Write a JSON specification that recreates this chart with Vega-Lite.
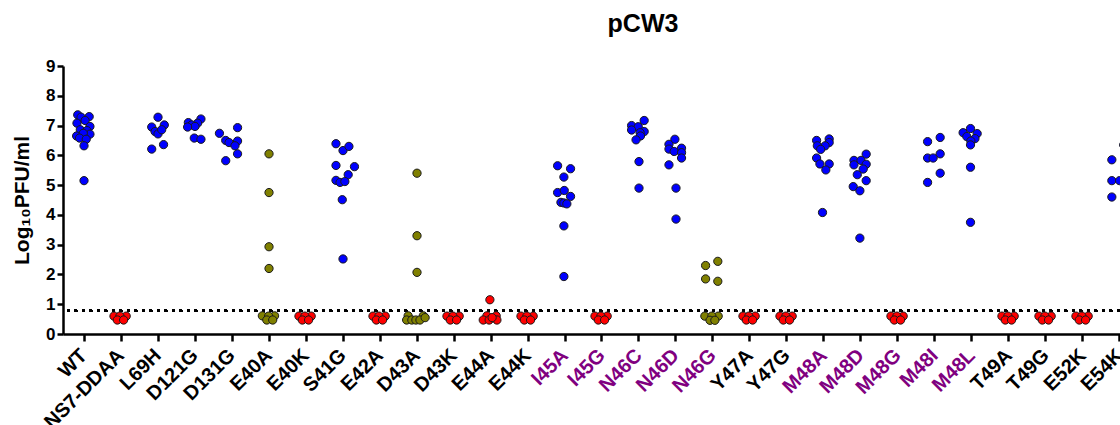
{
"$schema": "https://vega.github.io/schema/vega-lite/v6.json",
"width": 1078,
"height": 268,
"autosize": {"type": "none"},
"padding": {"left": 63, "top": 66, "right": -21, "bottom": 91},
"title": {"text": "pCW3", "fontSize": 25, "fontWeight": "bold", "font": "Liberation Sans", "color": "black", "anchor": "middle", "frame": "group", "dx": 41, "offset": 20},
"config": {"view": {"stroke": null}, "font": "Liberation Sans", "background": "white"},
"data": {"values": [
{"mutant":"WT","titer":7.36,"swarm":-0.17,"type":"high"},
{"mutant":"WT","titer":7.28,"swarm":-0.08,"type":"high"},
{"mutant":"WT","titer":7.30,"swarm":0.14,"type":"high"},
{"mutant":"WT","titer":7.08,"swarm":-0.19,"type":"high"},
{"mutant":"WT","titer":7.17,"swarm":0.03,"type":"high"},
{"mutant":"WT","titer":6.97,"swarm":0.16,"type":"high"},
{"mutant":"WT","titer":6.86,"swarm":-0.10,"type":"high"},
{"mutant":"WT","titer":6.83,"swarm":0.08,"type":"high"},
{"mutant":"WT","titer":6.71,"swarm":0.16,"type":"high"},
{"mutant":"WT","titer":6.65,"swarm":-0.20,"type":"high"},
{"mutant":"WT","titer":6.74,"swarm":-0.02,"type":"high"},
{"mutant":"WT","titer":6.58,"swarm":-0.12,"type":"high"},
{"mutant":"WT","titer":6.54,"swarm":0.06,"type":"high"},
{"mutant":"WT","titer":6.32,"swarm":0,"type":"high"},
{"mutant":"WT","titer":5.15,"swarm":0,"type":"high"},
{"mutant":"NS7-DDAA","titer":0.6,"swarm":-0.19,"type":"low"},
{"mutant":"NS7-DDAA","titer":0.6,"swarm":0.14,"type":"low"},
{"mutant":"NS7-DDAA","titer":0.6,"swarm":-0.03,"type":"low"},
{"mutant":"NS7-DDAA","titer":0.47,"swarm":-0.1,"type":"low"},
{"mutant":"NS7-DDAA","titer":0.47,"swarm":0.07,"type":"low"},
{"mutant":"L69H","titer":7.28,"swarm":0,"type":"high"},
{"mutant":"L69H","titer":6.95,"swarm":-0.17,"type":"high"},
{"mutant":"L69H","titer":7.02,"swarm":0.17,"type":"high"},
{"mutant":"L69H","titer":6.80,"swarm":-0.08,"type":"high"},
{"mutant":"L69H","titer":6.72,"swarm":0,"type":"high"},
{"mutant":"L69H","titer":6.86,"swarm":0.10,"type":"high"},
{"mutant":"L69H","titer":6.36,"swarm":0.15,"type":"high"},
{"mutant":"L69H","titer":6.21,"swarm":-0.17,"type":"high"},
{"mutant":"D121G","titer":7.22,"swarm":0.16,"type":"high"},
{"mutant":"D121G","titer":7.10,"swarm":-0.18,"type":"high"},
{"mutant":"D121G","titer":7.08,"swarm":0.07,"type":"high"},
{"mutant":"D121G","titer":7.02,"swarm":-0.09,"type":"high"},
{"mutant":"D121G","titer":6.97,"swarm":0,"type":"high"},
{"mutant":"D121G","titer":6.95,"swarm":-0.20,"type":"high"},
{"mutant":"D121G","titer":6.58,"swarm":-0.02,"type":"high"},
{"mutant":"D121G","titer":6.54,"swarm":0.16,"type":"high"},
{"mutant":"D131G","titer":6.74,"swarm":-0.34,"type":"high"},
{"mutant":"D131G","titer":6.93,"swarm":0.15,"type":"high"},
{"mutant":"D131G","titer":6.50,"swarm":-0.17,"type":"high"},
{"mutant":"D131G","titer":6.43,"swarm":-0.08,"type":"high"},
{"mutant":"D131G","titer":6.48,"swarm":0.15,"type":"high"},
{"mutant":"D131G","titer":6.32,"swarm":0.08,"type":"high"},
{"mutant":"D131G","titer":6.05,"swarm":0.15,"type":"high"},
{"mutant":"D131G","titer":5.82,"swarm":-0.17,"type":"high"},
{"mutant":"E40A","titer":6.05,"swarm":0,"type":"mixed"},
{"mutant":"E40A","titer":4.75,"swarm":0,"type":"mixed"},
{"mutant":"E40A","titer":2.93,"swarm":0,"type":"mixed"},
{"mutant":"E40A","titer":2.20,"swarm":0,"type":"mixed"},
{"mutant":"E40A","titer":0.61,"swarm":-0.18,"type":"mixed"},
{"mutant":"E40A","titer":0.61,"swarm":0.15,"type":"mixed"},
{"mutant":"E40A","titer":0.6,"swarm":-0.01,"type":"mixed"},
{"mutant":"E40A","titer":0.47,"swarm":-0.06,"type":"mixed"},
{"mutant":"E40A","titer":0.47,"swarm":0.10,"type":"mixed"},
{"mutant":"E40K","titer":0.6,"swarm":-0.19,"type":"low"},
{"mutant":"E40K","titer":0.6,"swarm":0.14,"type":"low"},
{"mutant":"E40K","titer":0.6,"swarm":-0.03,"type":"low"},
{"mutant":"E40K","titer":0.47,"swarm":-0.1,"type":"low"},
{"mutant":"E40K","titer":0.47,"swarm":0.07,"type":"low"},
{"mutant":"S41G","titer":6.39,"swarm":-0.19,"type":"high"},
{"mutant":"S41G","titer":6.16,"swarm":0,"type":"high"},
{"mutant":"S41G","titer":6.30,"swarm":0.16,"type":"high"},
{"mutant":"S41G","titer":5.66,"swarm":-0.19,"type":"high"},
{"mutant":"S41G","titer":5.62,"swarm":0.31,"type":"high"},
{"mutant":"S41G","titer":5.35,"swarm":0.14,"type":"high"},
{"mutant":"S41G","titer":5.16,"swarm":-0.19,"type":"high"},
{"mutant":"S41G","titer":5.09,"swarm":-0.08,"type":"high"},
{"mutant":"S41G","titer":5.12,"swarm":0.05,"type":"high"},
{"mutant":"S41G","titer":4.51,"swarm":-0.02,"type":"high"},
{"mutant":"S41G","titer":2.52,"swarm":0,"type":"high"},
{"mutant":"E42A","titer":0.6,"swarm":-0.19,"type":"low"},
{"mutant":"E42A","titer":0.6,"swarm":0.14,"type":"low"},
{"mutant":"E42A","titer":0.6,"swarm":-0.03,"type":"low"},
{"mutant":"E42A","titer":0.47,"swarm":-0.1,"type":"low"},
{"mutant":"E42A","titer":0.47,"swarm":0.07,"type":"low"},
{"mutant":"D43A","titer":5.40,"swarm":0,"type":"mixed"},
{"mutant":"D43A","titer":3.30,"swarm":0,"type":"mixed"},
{"mutant":"D43A","titer":2.07,"swarm":0,"type":"mixed"},
{"mutant":"D43A","titer":0.61,"swarm":-0.24,"type":"mixed"},
{"mutant":"D43A","titer":0.61,"swarm":0.17,"type":"mixed"},
{"mutant":"D43A","titer":0.47,"swarm":-0.28,"type":"mixed"},
{"mutant":"D43A","titer":0.47,"swarm":-0.14,"type":"mixed"},
{"mutant":"D43A","titer":0.47,"swarm":-0.03,"type":"mixed"},
{"mutant":"D43A","titer":0.47,"swarm":0.08,"type":"mixed"},
{"mutant":"D43A","titer":0.55,"swarm":0.22,"type":"mixed"},
{"mutant":"D43K","titer":0.6,"swarm":-0.19,"type":"low"},
{"mutant":"D43K","titer":0.6,"swarm":0.14,"type":"low"},
{"mutant":"D43K","titer":0.6,"swarm":-0.03,"type":"low"},
{"mutant":"D43K","titer":0.47,"swarm":-0.1,"type":"low"},
{"mutant":"D43K","titer":0.47,"swarm":0.07,"type":"low"},
{"mutant":"E44A","titer":1.15,"swarm":-0.03,"type":"low"},
{"mutant":"E44A","titer":0.61,"swarm":-0.11,"type":"low"},
{"mutant":"E44A","titer":0.61,"swarm":0.14,"type":"low"},
{"mutant":"E44A","titer":0.47,"swarm":-0.21,"type":"low"},
{"mutant":"E44A","titer":0.47,"swarm":-0.05,"type":"low"},
{"mutant":"E44A","titer":0.47,"swarm":0.16,"type":"low"},
{"mutant":"E44A","titer":0.55,"swarm":0.03,"type":"low"},
{"mutant":"E44K","titer":0.6,"swarm":-0.19,"type":"low"},
{"mutant":"E44K","titer":0.6,"swarm":0.14,"type":"low"},
{"mutant":"E44K","titer":0.6,"swarm":-0.03,"type":"low"},
{"mutant":"E44K","titer":0.47,"swarm":-0.1,"type":"low"},
{"mutant":"E44K","titer":0.47,"swarm":0.07,"type":"low"},
{"mutant":"I45A","titer":5.65,"swarm":-0.20,"type":"high"},
{"mutant":"I45A","titer":5.55,"swarm":0.15,"type":"high"},
{"mutant":"I45A","titer":5.27,"swarm":-0.03,"type":"high"},
{"mutant":"I45A","titer":4.75,"swarm":-0.20,"type":"high"},
{"mutant":"I45A","titer":4.82,"swarm":-0.02,"type":"high"},
{"mutant":"I45A","titer":4.62,"swarm":0.15,"type":"high"},
{"mutant":"I45A","titer":4.42,"swarm":-0.11,"type":"high"},
{"mutant":"I45A","titer":4.40,"swarm":-0.03,"type":"high"},
{"mutant":"I45A","titer":4.37,"swarm":0.05,"type":"high"},
{"mutant":"I45A","titer":3.63,"swarm":-0.03,"type":"high"},
{"mutant":"I45A","titer":1.93,"swarm":-0.03,"type":"high"},
{"mutant":"I45G","titer":0.6,"swarm":-0.19,"type":"low"},
{"mutant":"I45G","titer":0.6,"swarm":0.14,"type":"low"},
{"mutant":"I45G","titer":0.6,"swarm":-0.03,"type":"low"},
{"mutant":"I45G","titer":0.47,"swarm":-0.1,"type":"low"},
{"mutant":"I45G","titer":0.47,"swarm":0.07,"type":"low"},
{"mutant":"N46C","titer":7.17,"swarm":0.14,"type":"high"},
{"mutant":"N46C","titer":7.00,"swarm":-0.20,"type":"high"},
{"mutant":"N46C","titer":6.96,"swarm":-0.02,"type":"high"},
{"mutant":"N46C","titer":6.85,"swarm":-0.20,"type":"high"},
{"mutant":"N46C","titer":6.80,"swarm":0.14,"type":"high"},
{"mutant":"N46C","titer":6.76,"swarm":0.03,"type":"high"},
{"mutant":"N46C","titer":6.65,"swarm":0.04,"type":"high"},
{"mutant":"N46C","titer":6.52,"swarm":-0.08,"type":"high"},
{"mutant":"N46C","titer":5.79,"swarm":0,"type":"high"},
{"mutant":"N46C","titer":4.90,"swarm":0,"type":"high"},
{"mutant":"N46D","titer":6.54,"swarm":-0.03,"type":"high"},
{"mutant":"N46D","titer":6.37,"swarm":-0.19,"type":"high"},
{"mutant":"N46D","titer":6.21,"swarm":-0.19,"type":"high"},
{"mutant":"N46D","titer":6.24,"swarm":0.15,"type":"high"},
{"mutant":"N46D","titer":6.13,"swarm":-0.05,"type":"high"},
{"mutant":"N46D","titer":6.09,"swarm":0.15,"type":"high"},
{"mutant":"N46D","titer":5.91,"swarm":0.15,"type":"high"},
{"mutant":"N46D","titer":5.68,"swarm":-0.19,"type":"high"},
{"mutant":"N46D","titer":4.90,"swarm":0,"type":"high"},
{"mutant":"N46D","titer":3.86,"swarm":0,"type":"high"},
{"mutant":"N46G","titer":2.44,"swarm":0.13,"type":"mixed"},
{"mutant":"N46G","titer":2.30,"swarm":-0.20,"type":"mixed"},
{"mutant":"N46G","titer":1.85,"swarm":-0.20,"type":"mixed"},
{"mutant":"N46G","titer":1.77,"swarm":0.13,"type":"mixed"},
{"mutant":"N46G","titer":0.6,"swarm":-0.22,"type":"mixed"},
{"mutant":"N46G","titer":0.6,"swarm":0.14,"type":"mixed"},
{"mutant":"N46G","titer":0.6,"swarm":-0.03,"type":"mixed"},
{"mutant":"N46G","titer":0.46,"swarm":-0.08,"type":"mixed"},
{"mutant":"N46G","titer":0.46,"swarm":0.05,"type":"mixed"},
{"mutant":"Y47A","titer":0.6,"swarm":-0.19,"type":"low"},
{"mutant":"Y47A","titer":0.6,"swarm":0.14,"type":"low"},
{"mutant":"Y47A","titer":0.6,"swarm":-0.03,"type":"low"},
{"mutant":"Y47A","titer":0.47,"swarm":-0.1,"type":"low"},
{"mutant":"Y47A","titer":0.47,"swarm":0.07,"type":"low"},
{"mutant":"Y47G","titer":0.6,"swarm":-0.19,"type":"low"},
{"mutant":"Y47G","titer":0.6,"swarm":0.14,"type":"low"},
{"mutant":"Y47G","titer":0.6,"swarm":-0.03,"type":"low"},
{"mutant":"Y47G","titer":0.47,"swarm":-0.1,"type":"low"},
{"mutant":"Y47G","titer":0.47,"swarm":0.07,"type":"low"},
{"mutant":"M48A","titer":6.55,"swarm":0.14,"type":"high"},
{"mutant":"M48A","titer":6.50,"swarm":-0.20,"type":"high"},
{"mutant":"M48A","titer":6.43,"swarm":0.14,"type":"high"},
{"mutant":"M48A","titer":6.32,"swarm":0.03,"type":"high"},
{"mutant":"M48A","titer":6.32,"swarm":-0.18,"type":"high"},
{"mutant":"M48A","titer":6.20,"swarm":-0.09,"type":"high"},
{"mutant":"M48A","titer":5.91,"swarm":-0.20,"type":"high"},
{"mutant":"M48A","titer":5.71,"swarm":-0.11,"type":"high"},
{"mutant":"M48A","titer":5.71,"swarm":0.14,"type":"high"},
{"mutant":"M48A","titer":5.51,"swarm":0.05,"type":"high"},
{"mutant":"M48A","titer":4.08,"swarm":-0.04,"type":"high"},
{"mutant":"M48D","titer":6.04,"swarm":0.14,"type":"high"},
{"mutant":"M48D","titer":5.83,"swarm":-0.19,"type":"high"},
{"mutant":"M48D","titer":5.83,"swarm":0,"type":"high"},
{"mutant":"M48D","titer":5.68,"swarm":-0.19,"type":"high"},
{"mutant":"M48D","titer":5.70,"swarm":0.14,"type":"high"},
{"mutant":"M48D","titer":5.54,"swarm":0.06,"type":"high"},
{"mutant":"M48D","titer":5.35,"swarm":-0.10,"type":"high"},
{"mutant":"M48D","titer":5.15,"swarm":0.14,"type":"high"},
{"mutant":"M48D","titer":4.95,"swarm":-0.21,"type":"high"},
{"mutant":"M48D","titer":4.81,"swarm":-0.03,"type":"high"},
{"mutant":"M48D","titer":3.22,"swarm":-0.03,"type":"high"},
{"mutant":"M48G","titer":0.6,"swarm":-0.19,"type":"low"},
{"mutant":"M48G","titer":0.6,"swarm":0.14,"type":"low"},
{"mutant":"M48G","titer":0.6,"swarm":-0.03,"type":"low"},
{"mutant":"M48G","titer":0.47,"swarm":-0.1,"type":"low"},
{"mutant":"M48G","titer":0.47,"swarm":0.07,"type":"low"},
{"mutant":"M48I","titer":6.60,"swarm":0.14,"type":"high"},
{"mutant":"M48I","titer":6.46,"swarm":-0.20,"type":"high"},
{"mutant":"M48I","titer":6.05,"swarm":0.14,"type":"high"},
{"mutant":"M48I","titer":5.91,"swarm":-0.20,"type":"high"},
{"mutant":"M48I","titer":5.91,"swarm":-0.05,"type":"high"},
{"mutant":"M48I","titer":5.40,"swarm":0.14,"type":"high"},
{"mutant":"M48I","titer":5.09,"swarm":-0.20,"type":"high"},
{"mutant":"M48L","titer":6.90,"swarm":-0.04,"type":"high"},
{"mutant":"M48L","titer":6.76,"swarm":-0.24,"type":"high"},
{"mutant":"M48L","titer":6.73,"swarm":0.14,"type":"high"},
{"mutant":"M48L","titer":6.63,"swarm":-0.14,"type":"high"},
{"mutant":"M48L","titer":6.56,"swarm":0.08,"type":"high"},
{"mutant":"M48L","titer":6.48,"swarm":-0.03,"type":"high"},
{"mutant":"M48L","titer":6.35,"swarm":-0.04,"type":"high"},
{"mutant":"M48L","titer":5.60,"swarm":-0.04,"type":"high"},
{"mutant":"M48L","titer":3.75,"swarm":-0.04,"type":"high"},
{"mutant":"T49A","titer":0.6,"swarm":-0.19,"type":"low"},
{"mutant":"T49A","titer":0.6,"swarm":0.14,"type":"low"},
{"mutant":"T49A","titer":0.6,"swarm":-0.03,"type":"low"},
{"mutant":"T49A","titer":0.47,"swarm":-0.1,"type":"low"},
{"mutant":"T49A","titer":0.47,"swarm":0.07,"type":"low"},
{"mutant":"T49G","titer":0.6,"swarm":-0.19,"type":"low"},
{"mutant":"T49G","titer":0.6,"swarm":0.14,"type":"low"},
{"mutant":"T49G","titer":0.6,"swarm":-0.03,"type":"low"},
{"mutant":"T49G","titer":0.47,"swarm":-0.1,"type":"low"},
{"mutant":"T49G","titer":0.47,"swarm":0.07,"type":"low"},
{"mutant":"E52K","titer":0.6,"swarm":-0.19,"type":"low"},
{"mutant":"E52K","titer":0.6,"swarm":0.14,"type":"low"},
{"mutant":"E52K","titer":0.6,"swarm":-0.03,"type":"low"},
{"mutant":"E52K","titer":0.47,"swarm":-0.1,"type":"low"},
{"mutant":"E52K","titer":0.47,"swarm":0.07,"type":"low"},
{"mutant":"E54K","titer":6.35,"swarm":0.10,"type":"high"},
{"mutant":"E54K","titer":5.85,"swarm":-0.22,"type":"high"},
{"mutant":"E54K","titer":5.15,"swarm":-0.22,"type":"high"},
{"mutant":"E54K","titer":5.15,"swarm":-0.01,"type":"high"},
{"mutant":"E54K","titer":4.60,"swarm":-0.22,"type":"high"}
]},
"layer": [
{
"mark": {"type": "rule", "strokeDash": [0.1, 7.4], "strokeCap": "round", "strokeWidth": 2.6, "color": "black"},
"encoding": {"y": {"datum": 0.78, "type": "quantitative"}}
},
{
"mark": {"type": "circle", "size": 68, "opacity": 1, "stroke": "#1a1a1a", "strokeWidth": 1},
"encoding": {
"x": {"field": "mutant", "type": "nominal", "sort": null,
 "scale": {"domain": ["WT","NS7-DDAA","L69H","D121G","D131G","E40A","E40K","S41G","E42A","D43A","D43K","E44A","E44K","I45A","I45G","N46C","N46D","N46G","Y47A","Y47G","M48A","M48D","M48G","M48I","M48L","T49A","T49G","E52K","E54K"], "paddingInner": 0, "paddingOuter": 0.068},
 "axis": {"title": null, "labelAngle": -45, "labelAlign": "right", "labelBaseline": "middle", "labelFontSize": 20, "labelFontWeight": "bold", "labelFont": "Liberation Sans",
  "labelColor": {"condition": {"test": "indexof(['I45A','I45G','N46C','N46D','N46G','M48A','M48D','M48G','M48I','M48L'], datum.value) >= 0", "value": "#800080"}, "value": "black"},
  "domainColor": "black", "domainWidth": 2.5, "tickColor": "black", "tickWidth": 2.5, "tickSize": 7, "labelPadding": 11, "labelOverlap": false, "labelLimit": 300, "grid": false}},
"xOffset": {"field": "swarm", "type": "quantitative", "scale": {"domain": [-0.5, 0.5]}},
"y": {"field": "titer", "type": "quantitative", "scale": {"domain": [0, 9], "nice": false},
 "axis": {"title": "Log₁₀PFU/ml", "titleFontSize": 21, "titleFontWeight": "bold", "titleColor": "black", "titleFont": "Liberation Sans", "titlePadding": 13,
  "values": [0,1,2,3,4,5,6,7,8,9], "tickCount": 10, "labelOverlap": false, "labelFontSize": 17, "labelFontWeight": "bold", "labelColor": "black", "labelFont": "Liberation Sans", "labelPadding": 2,
  "domainColor": "black", "domainWidth": 2.5, "tickColor": "black", "tickWidth": 2.5, "tickSize": 6, "grid": false}},
"color": {"field": "type", "type": "nominal", "scale": {"domain": ["high","low","mixed"], "range": ["#0000ff","#ff0000","#808000"]}, "legend": null}
}
}
]
}
